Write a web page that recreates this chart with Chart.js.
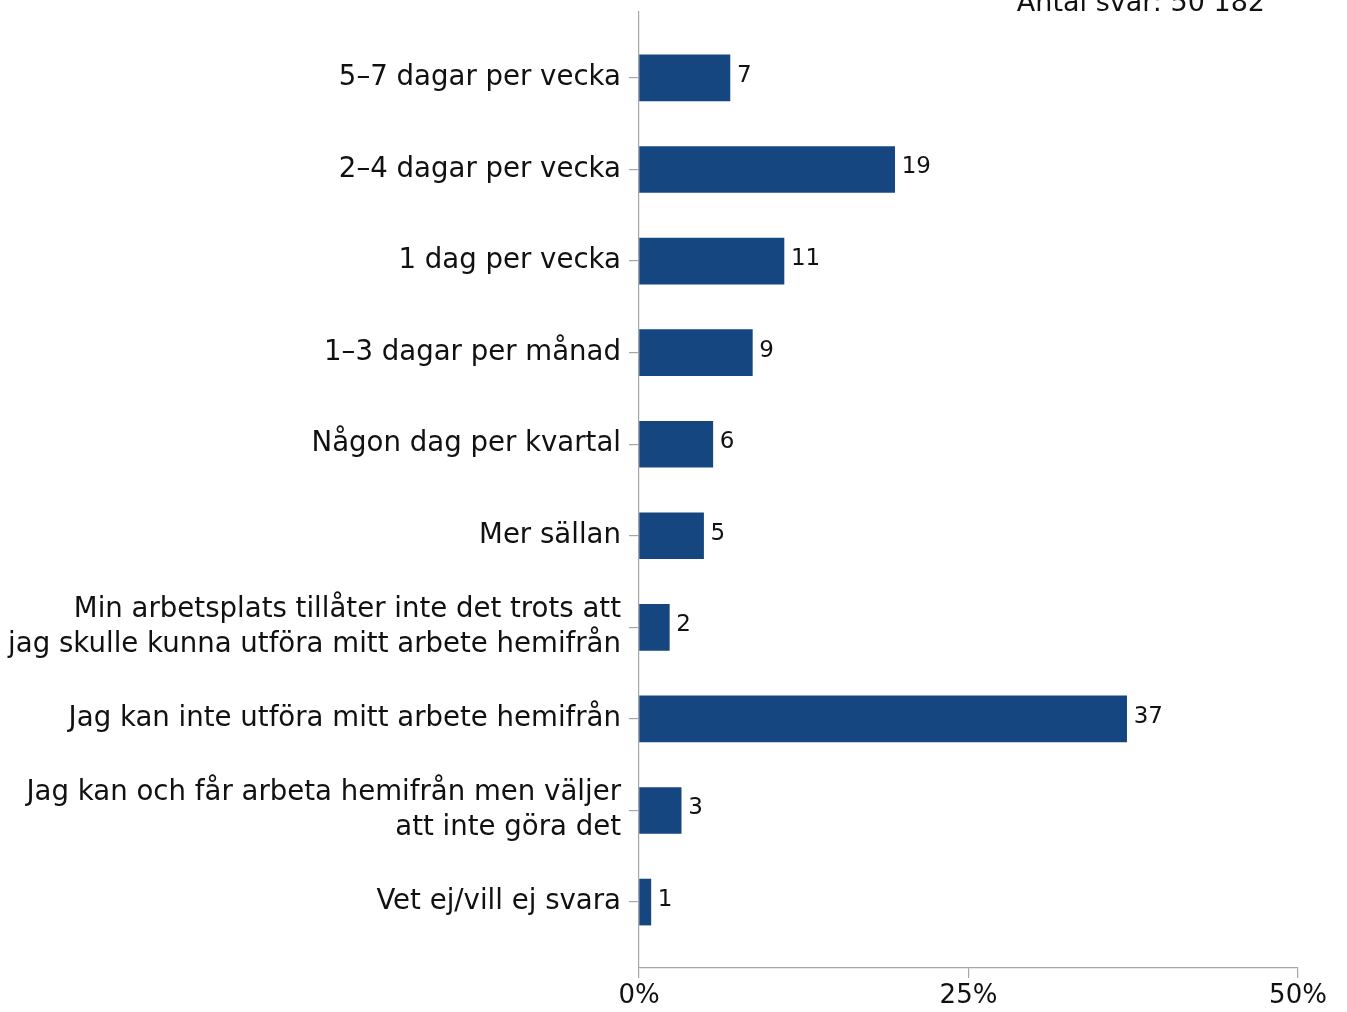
<!DOCTYPE html>
<html>
<head>
<meta charset="utf-8">
<script src="https://cdn.jsdelivr.net/npm/chart.js@4/dist/chart.umd.min.js"></script>
<style>
  html, body { margin: 0; padding: 0; background: #ffffff; }
  #wrap { width: 1347px; height: 1012px; position: relative; }
</style>
</head>
<body>
<div id="wrap"><canvas id="c" width="1347" height="1012"></canvas></div>
<script>
const categories = [
  "5–7 dagar per vecka",
  "2–4 dagar per vecka",
  "1 dag per vecka",
  "1–3 dagar per månad",
  "Någon dag per kvartal",
  "Mer sällan",
  ["Min arbetsplats tillåter inte det trots att", "jag skulle kunna utföra mitt arbete hemifrån"],
  "Jag kan inte utföra mitt arbete hemifrån",
  ["Jag kan och får arbeta hemifrån men väljer", "att inte göra det"],
  "Vet ej/vill ej svara"
];
const values = [6.9, 19.4, 11.0, 8.6, 5.6, 4.9, 2.3, 37.0, 3.2, 0.9];
const valueLabels = ["7", "19", "11", "9", "6", "5", "2", "37", "3", "1"];
const xTicks = [0, 25, 50];
const noteText = "Antal svar: 50 182";

const FONT = "'DejaVu Sans', 'Open Sans', sans-serif";
const AXIS_COLOR = "#a6a6a6";
const BAR_COLOR = "#15467f";

const points = values.map((v, i) => ({ x: v, y: i }));

const labelsPlugin = {
  id: "valueLabels",
  afterDatasetsDraw(chart) {
    const ctx = chart.ctx;
    const meta = chart.getDatasetMeta(0);
    ctx.save();
    ctx.fillStyle = "#111111";
    ctx.font = "23px " + FONT;
    ctx.textAlign = "left";
    ctx.textBaseline = "middle";
    meta.data.forEach((bar, i) => {
      ctx.fillText(valueLabels[i], bar.x + 7, bar.y - 2);
    });
    ctx.restore();
  },
  afterDraw(chart) {
    const ctx = chart.ctx;
    ctx.save();
    ctx.fillStyle = "#111111";
    ctx.font = "27px " + FONT;
    ctx.textAlign = "right";
    ctx.textBaseline = "alphabetic";
    ctx.fillText(noteText, 1265, 11);
    ctx.restore();
  }
};

new Chart(document.getElementById("c"), {
  type: "bar",
  data: {
    datasets: [{
      data: points,
      backgroundColor: BAR_COLOR,
      borderWidth: 0,
      barThickness: 46
    }]
  },
  plugins: [labelsPlugin],
  options: {
    indexAxis: "y",
    responsive: false,
    animation: false,
    layout: { padding: { top: 12, right: 49, left: 0, bottom: 0 } },
    plugins: { legend: { display: false }, tooltip: { enabled: false } },
    scales: {
      x: {
        type: "linear",
        min: 0,
        max: 50,
        afterBuildTicks(scale) { scale.ticks = xTicks.map(v => ({ value: v })); },
        afterFit(scale) { scale.height = 44; scale.paddingLeft = 0; scale.paddingRight = 0; },
        ticks: {
          callback: v => v + "%",
          color: "#111111",
          font: { family: FONT, size: 26 },
          padding: 3,
          maxRotation: 0
        },
        grid: { drawOnChartArea: false, drawTicks: true, tickLength: 10, color: AXIS_COLOR, lineWidth: 1.2 },
        border: { display: true, color: AXIS_COLOR, width: 1.2 }
      },
      y: {
        type: "linear",
        reverse: true,
        offset: false,
        min: -0.72,
        max: 9.72,
        afterBuildTicks(scale) { scale.ticks = categories.map((c, i) => ({ value: i })); },
        afterFit(scale) { scale.width = 639; scale.paddingTop = 0; scale.paddingBottom = 0; },
        ticks: {
          callback: (v) => categories[v],
          color: "#111111",
          font: { family: FONT, size: 27.6, lineHeight: 1.27 },
          padding: 8,
          autoSkip: false
        },
        grid: { offset: false, drawOnChartArea: false, drawTicks: true, tickLength: 10, color: AXIS_COLOR, lineWidth: 1.2 },
        border: { display: true, color: AXIS_COLOR, width: 1.2 }
      }
    }
  }
});
</script>
</body>
</html>
